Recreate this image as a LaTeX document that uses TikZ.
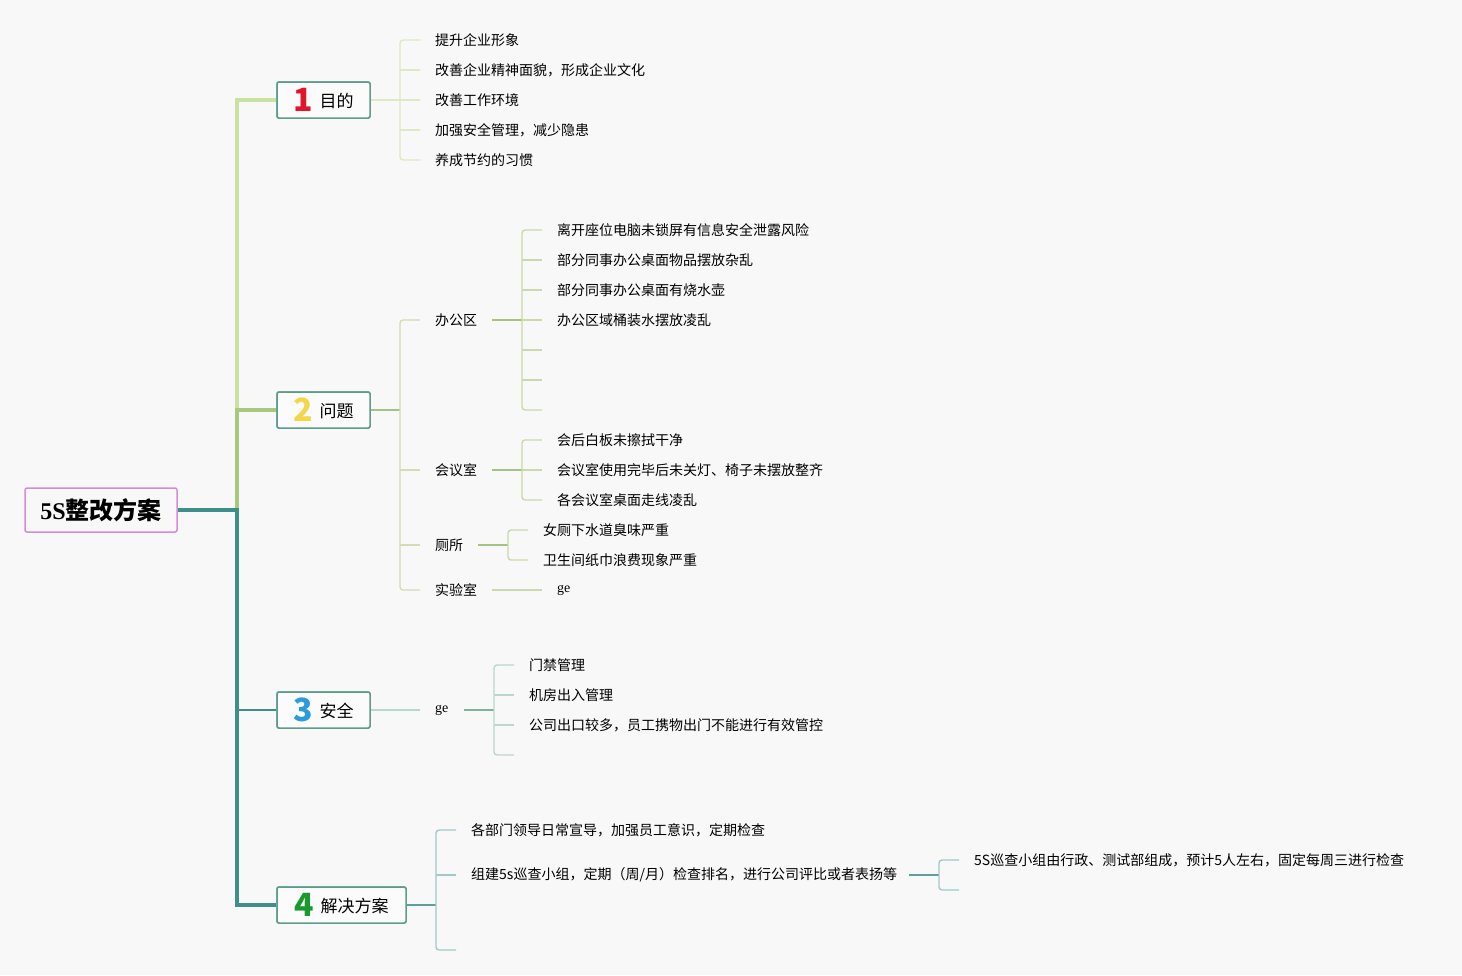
\documentclass[tikz,border=0pt]{standalone}
\usepackage{fontspec}
\setmainfont{Noto Sans CJK SC}
\newfontfamily\serif{Liberation Serif}
\definecolor{bg}{HTML}{F8F8F8}
\definecolor{trunk}{HTML}{3D9089}
\definecolor{bone}{HTML}{C8E3A0}
\definecolor{btwo}{HTML}{A8C87E}
\definecolor{nbord}{HTML}{5C9C8A}
\definecolor{rbord}{HTML}{D58BDC}
\definecolor{cone}{HTML}{DDE9C3}
\definecolor{ctwo}{HTML}{D3DCB5}
\definecolor{ctwom}{HTML}{A3C283}
\definecolor{ctwob}{HTML}{C9D9AC}
\definecolor{cthree}{HTML}{B9D7CB}
\definecolor{cthreem}{HTML}{7DB39A}
\definecolor{cfourm}{HTML}{5E9E9B}
\definecolor{cfour}{HTML}{A0C9C8}
\definecolor{numred}{HTML}{E0142A}
\definecolor{numyel}{HTML}{F5D64A}
\definecolor{numblue}{HTML}{2A9BDB}
\definecolor{numgreen}{HTML}{1A9A2E}
\tikzset{
  leaf/.style={anchor=west, inner sep=0pt, font=\fontsize{14}{16}\selectfont},
  geleaf/.style={anchor=west, inner sep=0pt, font=\serif\fontsize{14}{16}\selectfont},
  topic/.style={draw=nbord, line width=1.5pt, rounded corners=2pt, fill=white!50!bg,
    minimum height=36pt, inner sep=0pt, font=\fontsize{17}{20}\selectfont},
  thin/.style={line width=1.4pt},
}
\newcommand{\bignum}[3]{{\fontsize{32}{32}\selectfont\bfseries\color{#1}#2}\hspace{7pt}\raisebox{4.5pt}{#3}}
\begin{document}
\begin{tikzpicture}[x=1pt,y=-1pt]
\fill[bg] (0,0) rectangle (1462,975);
\useasboundingbox (0,0) rectangle (1462,975);

% root and topics
\node[draw=rbord, line width=1.5pt, rounded corners=2pt, fill=bg, minimum width=152pt,
  minimum height=44pt, inner sep=0pt, font=\fontsize{24}{26}\selectfont\bfseries] (root) at (101,510)
  {{\serif 5S}整改方案};
\coordinate (tr) at (237,510);
\coordinate (t3) at (237,710);

\node[topic, minimum width=93pt] (n1) at (323.5,100) {\bignum{numred}{1}{目的}};
\node[topic, minimum width=93pt] (n2) at (323.5,410) {\bignum{numyel}{2}{问题}};
\node[topic, minimum width=93pt] (n3) at (323.5,710) {\bignum{numblue}{3}{安全}};
\node[topic, minimum width=129pt] (n4) at (341.5,905) {\bignum{numgreen}{4}{解决方案}};

% main branches
\draw[bone, line width=3.5pt] (tr) |- (n1.west);
\draw[btwo, line width=4.5pt] (tr) |- (n2.west);
\draw[trunk, line width=4.5pt] (tr) |- (n4.west);
\draw[trunk, line width=1.5pt] (t3) -- (n3.west);
\draw[trunk, line width=4.5pt] (root.east) -- ([xshift=2.25pt]tr);
% topics again, above the branch lines
\node[topic, minimum width=93pt] at (n1) {\bignum{numred}{1}{目的}};
\node[topic, minimum width=93pt] at (n2) {\bignum{numyel}{2}{问题}};
\node[topic, minimum width=93pt] at (n3) {\bignum{numblue}{3}{安全}};
\node[topic, minimum width=129pt] at (n4) {\bignum{numgreen}{4}{解决方案}};

% ---------- branch 1
\node[leaf] (a1) at (435,40) {提升企业形象};
\node[leaf] (a2) at (435,70) {改善企业精神面貌，形成企业文化};
\node[leaf] (a3) at (435,100) {改善工作环境};
\node[leaf] (a4) at (435,130) {加强安全管理，减少隐患};
\node[leaf] (a5) at (435,160) {养成节约的习惯};
\coordinate (ax) at (400,100);
\draw[cone, thin] (n1.east) -- (ax);
\draw[cone, thin, rounded corners=3pt] ([xshift=-15pt]a1.west) -| (ax |- a5.west) -- ([xshift=-15pt]a5.west);
\foreach \i in {2,3,4} \draw[cone, thin] (ax |- a\i.west) -- ([xshift=-15pt]a\i.west);

% ---------- branch 2
\node[leaf] (p1) at (435,320) {办公区};
\node[leaf] (p2) at (435,470) {会议室};
\node[leaf] (p3) at (435,545) {厕所};
\node[leaf] (p4) at (435,590) {实验室};
\coordinate (px) at (400,410);
\draw[ctwom, thin] (n2.east) -- (px);
\draw[ctwo, thin, rounded corners=3pt] ([xshift=-15pt]p1.west) -| (px |- p4.west) -- ([xshift=-15pt]p4.west);
\foreach \i in {2,3} \draw[ctwo, thin] (px |- p\i.west) -- ([xshift=-15pt]p\i.west);

% office
\node[leaf] (o1) at (557,230) {离开座位电脑未锁屏有信息安全泄露风险};
\node[leaf] (o2) at (557,260) {部分同事办公桌面物品摆放杂乱};
\node[leaf] (o3) at (557,290) {部分同事办公桌面有烧水壶};
\node[leaf] (o4) at (557,320) {办公区域桶装水摆放凌乱};
\coordinate (o5) at (557,350);
\coordinate (o6) at (557,380);
\coordinate (o7) at (557,410);
\coordinate (ox) at (522,320);
\draw[ctwom, thin] ([xshift=15pt]p1.east) -- (ox);
\draw[ctwob, thin, rounded corners=3pt] ([xshift=-15pt]o1.west) -| (ox |- o7) -- ([xshift=-15pt]o7);
\foreach \i in {2,3,4} \draw[ctwob, thin] (ox |- o\i.west) -- ([xshift=-15pt]o\i.west);
\foreach \i in {5,6} \draw[ctwob, thin] (ox |- o\i) -- ([xshift=-15pt]o\i);

% meeting room
\node[leaf] (m1) at (557,440) {会后白板未擦拭干净};
\node[leaf] (m2) at (557,470) {会议室使用完毕后未关灯、椅子未摆放整齐};
\node[leaf] (m3) at (557,500) {各会议室桌面走线凌乱};
\coordinate (mx) at (522,470);
\draw[ctwom, thin] ([xshift=15pt]p2.east) -- (mx);
\draw[ctwob, thin, rounded corners=3pt] ([xshift=-15pt]m1.west) -| (mx |- m3.west) -- ([xshift=-15pt]m3.west);
\draw[ctwob, thin] (mx) -- ([xshift=-15pt]m2.west);

% toilet
\node[leaf] (w1) at (543,530) {女厕下水道臭味严重};
\node[leaf] (w2) at (543,560) {卫生间纸巾浪费现象严重};
\coordinate (wx) at (508,545);
\draw[ctwom, thin] ([xshift=15pt]p3.east) -- (wx);
\draw[ctwob, thin, rounded corners=3pt] ([xshift=-15pt]w1.west) -| (wx |- w2.west) -- ([xshift=-15pt]w2.west);

% lab
\node[geleaf] (g1) at (557,590) {ge};
\draw[ctwob, thin] ([xshift=15pt]p4.east) -- ([xshift=-15pt]g1.west |- p4.east);

% ---------- branch 3
\node[geleaf] (g3) at (435,710) {ge};
\draw[cthree, thin] (n3.east) -- ([xshift=-15pt]g3.west |- n3.east);
\node[leaf] (s1) at (529,665) {门禁管理};
\node[leaf] (s2) at (529,695) {机房出入管理};
\node[leaf] (s3) at (529,725) {公司出口较多，员工携物出门不能进行有效管控};
\coordinate (s4) at (529,755);
\coordinate (sx) at (494,710);
\draw[cthreem, thin] ([xshift=15pt]g3.east |- sx) -- (sx);
\draw[cthree, thin, rounded corners=3pt] ([xshift=-15pt]s1.west) -| (sx |- s4) -- ([xshift=-15pt]s4);
\foreach \i in {2,3} \draw[cthree, thin] (sx |- s\i.west) -- ([xshift=-15pt]s\i.west);

% ---------- branch 4
\node[leaf] (r1) at (471,830) {各部门领导日常宣导，加强员工意识，定期检查};
\node[leaf] (r2) at (471,875) {组建5s巡查小组，定期（周/月）检查排名，进行公司评比或者表扬等};
\coordinate (r3) at (471,950);
\coordinate (rx) at (436,905);
\draw[cfourm, thin] (n4.east) -- (rx);
\draw[cfour, thin, rounded corners=3pt] ([xshift=-15pt]r1.west) -| (rx |- r3) -- ([xshift=-15pt]r3);
\draw[cfour, thin] (rx |- r2.west) -- ([xshift=-15pt]r2.west);

\node[leaf] (q1) at (974,860) {5S巡查小组由行政、测试部组成，预计5人左右，固定每周三进行检查};
\coordinate (q2) at (974,890);
\coordinate (qx) at (939,875);
\draw[cfourm, thin] ([xshift=12pt]r2.east |- qx) -- (qx);
\draw[cfour, thin, rounded corners=3pt] ([xshift=-15pt]q1.west) -| (qx |- q2) -- ([xshift=-15pt]q2);
\end{tikzpicture}
\end{document}
